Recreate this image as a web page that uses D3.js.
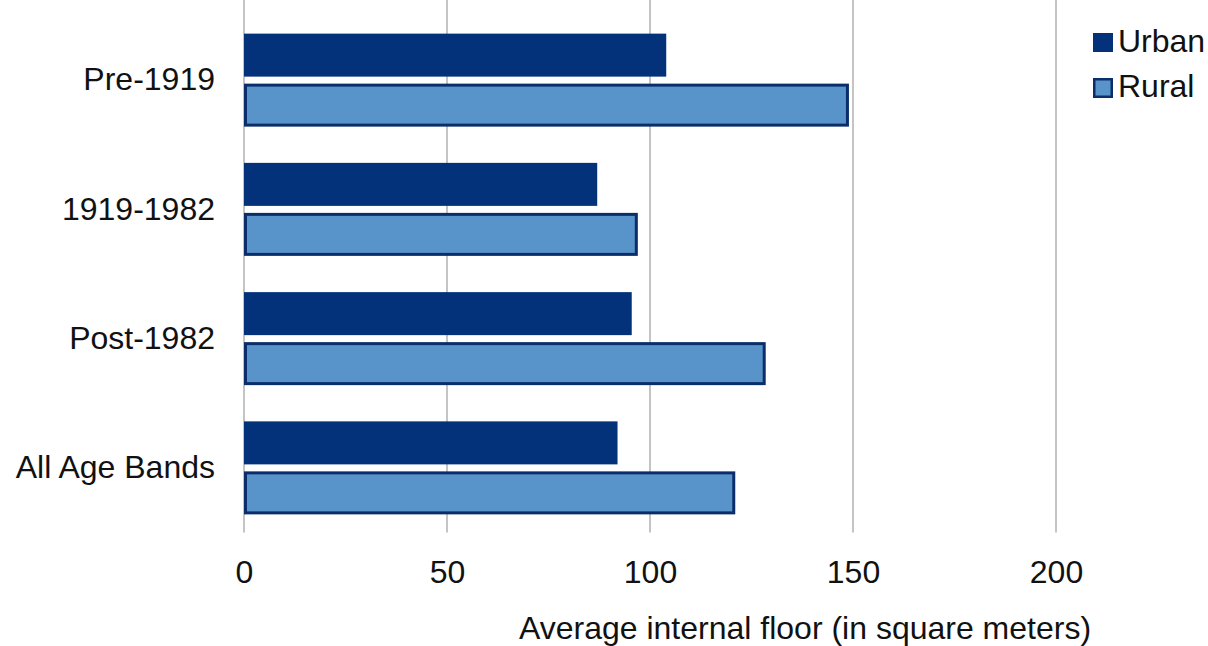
<!DOCTYPE html>
<html>
<head>
<meta charset="utf-8">
<script src="https://cdn.jsdelivr.net/npm/d3@7"></script>
<style>
  html, body { margin: 0; padding: 0; background: #fff; }
  svg { display: block; font-family: "Liberation Sans", Arial, sans-serif; }
</style>
</head>
<body>
<svg id="chart" width="1208" height="646"></svg>
<script>
// Average internal floor area by dwelling age band
const categories = ["Pre-1919", "1919-1982", "Post-1982", "All Age Bands"];
const seriesNames = ["Urban", "Rural"];
const urbanValues = [104, 87, 95.5, 92];
const ruralValues = [149, 97, 128.5, 121];
const xTicks = [0, 50, 100, 150, 200];
const axisTitle = "Average internal floor (in square meters)";

const colors = { Urban: "#03327a", Rural: "#5893c9" };
const ruralStroke = "#0b2e6b";
const gridColor = "#c4c4c4";
const textColor = "#111";
const fontSize = 32;

const svg = d3.select("#chart");

const plot = { left: 244, right: 1056, top: 15.5, bottom: 532.5 };

const x = d3.scaleLinear().domain([0, 200]).range([plot.left, plot.right]);
const y = d3.scaleBand().domain(categories).range([plot.top, plot.bottom]).paddingInner(0).paddingOuter(0);
const ySub = d3.scaleBand().domain(seriesNames).range([0, y.bandwidth()])
  .paddingInner(0.14).paddingOuter(0.3625);

// vertical gridlines
svg.append("g").selectAll("line").data(xTicks).join("line")
  .attr("x1", d => x(d)).attr("x2", d => x(d))
  .attr("y1", 0).attr("y2", plot.bottom)
  .attr("stroke", gridColor).attr("stroke-width", 2);

// bottom axis labels
const xAxis = d3.axisBottom(x).tickValues(xTicks).tickSize(0).tickPadding(0).tickFormat(d3.format("d"));
const gx = svg.append("g").attr("transform", `translate(0, ${plot.bottom + 28})`).call(xAxis);
gx.select(".domain").remove();
gx.selectAll("text")
  .attr("font-size", fontSize).attr("fill", textColor)
  .attr("font-family", "Liberation Sans, Arial, sans-serif")
  .attr("dy", "0.71em");

// category labels
const yAxis = d3.axisLeft(y).tickSize(0).tickPadding(29);
const gy = svg.append("g").attr("transform", `translate(${plot.left}, 0)`).call(yAxis);
gy.select(".domain").remove();
gy.selectAll("text")
  .attr("font-size", fontSize).attr("fill", textColor)
  .attr("font-family", "Liberation Sans, Arial, sans-serif");

// bars
const rows = categories.map((c, i) => ({ category: c, Urban: urbanValues[i], Rural: ruralValues[i] }));
const groups = svg.append("g").selectAll("g").data(rows).join("g")
  .attr("transform", d => `translate(0, ${y(d.category)})`);

groups.append("rect")
  .attr("x", x(0))
  .attr("y", ySub("Urban"))
  .attr("width", d => x(d.Urban) - x(0))
  .attr("height", ySub.bandwidth())
  .attr("fill", colors.Urban);

const sw = 3;
groups.append("rect")
  .attr("x", x(0) + sw / 2)
  .attr("y", ySub("Rural") + sw / 2)
  .attr("width", d => x(d.Rural) - x(0) - sw)
  .attr("height", ySub.bandwidth() - sw)
  .attr("fill", colors.Rural)
  .attr("stroke", ruralStroke)
  .attr("stroke-width", sw);

// axis title
svg.append("text")
  .attr("x", 805).attr("y", 639)
  .attr("text-anchor", "middle")
  .attr("font-size", fontSize).attr("fill", textColor)
  .text(axisTitle);

// legend
const legend = svg.append("g").attr("transform", "translate(1093, 33)");
const items = legend.selectAll("g").data(seriesNames).join("g")
  .attr("transform", (d, i) => `translate(0, ${i * 45})`);
items.append("rect")
  .attr("x", d => d === "Rural" ? 1.25 : 0)
  .attr("y", d => d === "Rural" ? 1.25 : 0)
  .attr("width", d => d === "Rural" ? 17.5 : 20)
  .attr("height", d => d === "Rural" ? 17.5 : 19)
  .attr("fill", d => colors[d])
  .attr("stroke", d => d === "Rural" ? ruralStroke : "none")
  .attr("stroke-width", 2.5);
items.append("text")
  .attr("x", 25).attr("y", 19)
  .attr("font-size", fontSize).attr("fill", textColor)
  .text(d => d);
</script>
</body>
</html>
